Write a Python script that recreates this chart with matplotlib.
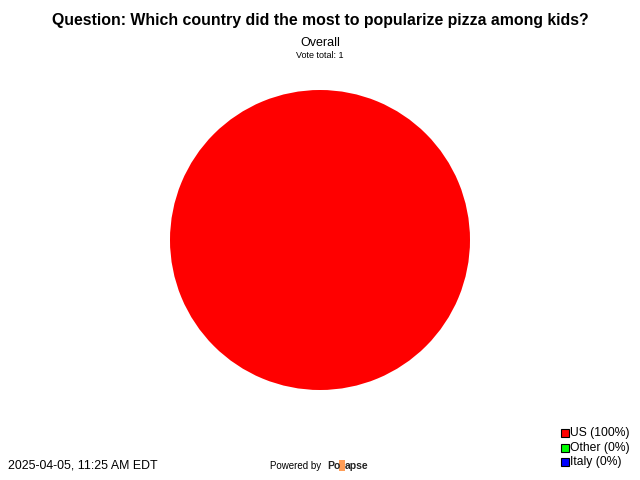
import matplotlib.pyplot as plt
import matplotlib.patches as mpatches

plt.rcParams['font.family'] = ['Liberation Sans', 'DejaVu Sans']

# data
labels = ['US', 'Other', 'Italy']
votes = [1, 0, 0]
colors = ['#ff0000', '#00ff00', '#0000ff']
title = 'Question: Which country did the most to popularize pizza among kids?'
subtitle = 'Overall'
stamp = '2025-04-05, 11:25 AM EDT'

total = sum(votes)
pcts = [100 * v / total for v in votes]

fig = plt.figure(figsize=(6.4, 4.8), dpi=100)
fig.patch.set_facecolor('white')

# pie, centre (320,240) px, radius 150 px
ax = fig.add_axes([170/640, 90/480, 300/640, 300/480])
ax.pie(votes, colors=colors, startangle=90, counterclock=False,
       wedgeprops=dict(linewidth=0))
ax.set_aspect('equal')
ax.set_xlim(-1, 1)
ax.set_ylim(-1, 1)
ax.axis('off')

fig.text(0.5, 1 - 20/480, title, ha='center', va='center',
         fontsize=11.4, fontweight='bold')
fig.text(0.5, 1 - 43/480, subtitle, ha='center', va='center', fontsize=9)
fig.text(0.5, 1 - 56/480, 'Vote total: %d' % total, ha='center',
         va='center', fontsize=6.5)

# legend
for i, (lab, p, c) in enumerate(zip(labels, pcts, colors)):
    y = 1 - (433 + i * 14.5) / 480
    fig.patches.append(mpatches.Rectangle((561/640, y - 4/480), 8/640, 8/480,
                       transform=fig.transFigure, facecolor=c,
                       edgecolor='black', linewidth=0.8))
    fig.text(570/640, y, '%s (%d%%)' % (lab, round(p)), ha='left',
             va='center', fontsize=8.7)

fig.text(8/640, 1 - 466/480, stamp, ha='left', va='center', fontsize=8.9)

# powered by
fig.text(270/640, 1 - 466/480, 'Powered by', ha='left', va='center',
         fontsize=7)
fig.text(327/640, 1 - 466/480, 'Po', ha='left', va='center', fontsize=7.5,
         fontweight='bold', color='#222222')
fig.patches.append(mpatches.Rectangle((339/640, 1 - 471/480), 6/640, 11/480,
                   transform=fig.transFigure, facecolor='#ff8c3a',
                   edgecolor='none', alpha=0.85))
fig.text(345/640, 1 - 466/480, 'apse', ha='left', va='center', fontsize=7.5,
         fontweight='bold', color='#222222')

fig.savefig('out.png', dpi=100)
